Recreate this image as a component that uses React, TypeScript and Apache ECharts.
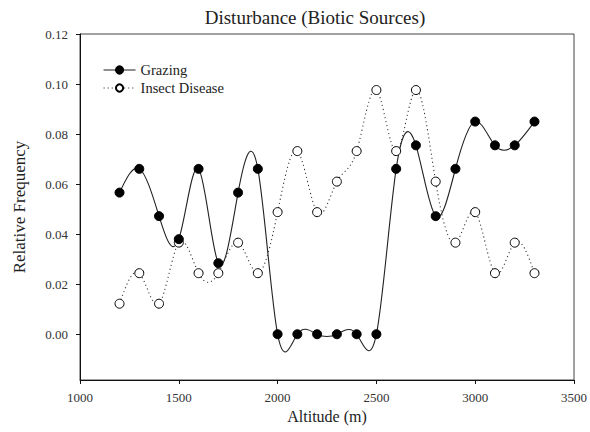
import React, { useEffect, useRef } from "react";
import * as echarts from "echarts";

const altitudes = [1200, 1300, 1400, 1500, 1600, 1700, 1800, 1900, 2000, 2100, 2200, 2300, 2400, 2500, 2600, 2700, 2800, 2900, 3000, 3100, 3200, 3300];
const grazing = [0.0566, 0.0661, 0.0472, 0.038, 0.0661, 0.0284, 0.0566, 0.0661, 0, 0, 0, 0, 0, 0, 0.0661, 0.0755, 0.0472, 0.0661, 0.085, 0.0755, 0.0755, 0.085];
const insectDisease = [0.0122, 0.0244, 0.0122, 0.0366, 0.0244, 0.0244, 0.0366, 0.0244, 0.0488, 0.0732, 0.0488, 0.061, 0.0732, 0.0976, 0.0732, 0.0976, 0.061, 0.0366, 0.0488, 0.0244, 0.0366, 0.0244];
const yTicks = [0, 0.02, 0.04, 0.06, 0.08, 0.1, 0.12];
const seriesNames = ["Grazing", "Insect Disease"];

const FONT = "'Liberation Serif', 'DejaVu Serif', 'Times New Roman', serif";

// Natural cubic spline through pixel points -> SVG path made of bezier segments
function splinePath(pts: number[][]): string {
  const n = pts.length - 1;
  if (n < 1) return "";
  const xs = pts.map((p) => p[0]);
  const ys = pts.map((p) => p[1]);
  const h: number[] = [];
  for (let i = 0; i < n; i++) h.push(xs[i + 1] - xs[i]);
  const M = new Array(n + 1).fill(0);
  if (n > 1) {
    const a: number[] = [], b: number[] = [], c: number[] = [], d: number[] = [];
    for (let i = 1; i < n; i++) {
      a.push(h[i - 1]);
      b.push(2 * (h[i - 1] + h[i]));
      c.push(h[i]);
      d.push(6 * ((ys[i + 1] - ys[i]) / h[i] - (ys[i] - ys[i - 1]) / h[i - 1]));
    }
    const m = b.length;
    for (let i = 1; i < m; i++) {
      const w = a[i] / b[i - 1];
      b[i] -= w * c[i - 1];
      d[i] -= w * d[i - 1];
    }
    const sol = new Array(m).fill(0);
    sol[m - 1] = d[m - 1] / b[m - 1];
    for (let i = m - 2; i >= 0; i--) sol[i] = (d[i] - c[i] * sol[i + 1]) / b[i];
    for (let i = 1; i < n; i++) M[i] = sol[i - 1];
  }
  let path = `M${xs[0]},${ys[0]}`;
  for (let i = 0; i < n; i++) {
    const hi = h[i];
    const s0 = (ys[i + 1] - ys[i]) / hi - (hi * (2 * M[i] + M[i + 1])) / 6;
    const s1 = (ys[i + 1] - ys[i]) / hi + (hi * (M[i] + 2 * M[i + 1])) / 6;
    const c1x = xs[i] + hi / 3, c1y = ys[i] + (s0 * hi) / 3;
    const c2x = xs[i + 1] - hi / 3, c2y = ys[i + 1] - (s1 * hi) / 3;
    path += ` C${c1x},${c1y} ${c2x},${c2y} ${xs[i + 1]},${ys[i + 1]}`;
  }
  return path;
}

export default function App() {
  const ref = useRef<HTMLDivElement>(null);
  useEffect(() => {
    if (!ref.current) return;
    const chart = echarts.init(ref.current, null, { renderer: "svg" });
    const pair = (vals: number[]) => altitudes.map((a, i) => [a, vals[i]]);
    const curve = (vals: number[], stroke: string, dash: number[] | null) => ({
      type: "custom",
      silent: true,
      data: pair(vals),
      encode: { x: 0, y: 1 },
      z: 1,
      renderItem: (params: any, api: any) => {
        if (params.dataIndex !== 0) return null;
        const pts = pair(vals).map((p) => api.coord(p));
        return {
          type: "path",
          shape: { pathData: splinePath(pts) },
          style: { fill: "none", stroke, lineWidth: 1.1, lineDash: dash || undefined },
        };
      },
    });
    chart.setOption({
      animation: false,
      backgroundColor: "#ffffff",
      title: {
        text: "Disturbance (Biotic Sources)",
        left: 310,
        textAlign: "center",
        top: 3,
        textStyle: { fontFamily: FONT, fontSize: 19, fontWeight: "normal", color: "#222" },
      },
      legend: {
        data: [
          { name: seriesNames[0], lineStyle: { color: "#222", width: 1.1, opacity: 1, type: "solid" } },
          { name: seriesNames[1], lineStyle: { color: "#333", width: 1.1, opacity: 1, type: [1.1, 3] } },
        ],
        orient: "vertical",
        left: 103,
        top: 62.5,
        padding: 0,
        itemWidth: 32,
        itemHeight: 9,
        itemGap: 3,
        textStyle: { fontFamily: FONT, fontSize: 14.5, color: "#222" },
      },
      grid: {
        left: 80,
        right: 14,
        top: 34,
        bottom: 52,
        show: true,
        borderColor: "#444",
        borderWidth: 1,
        containLabel: false,
      },
      xAxis: {
        type: "value",
        min: 1000,
        max: 3500,
        interval: 500,
        name: "Altitude (m)",
        nameLocation: "middle",
        nameGap: 27,
        nameTextStyle: { fontFamily: FONT, fontSize: 16, color: "#222" },
        axisLine: { show: true, onZero: false, lineStyle: { color: "#111", width: 1 } },
        axisTick: { show: true, inside: false, length: 4, lineStyle: { color: "#111" } },
        axisLabel: { fontFamily: FONT, fontSize: 13, color: "#333", margin: 11, formatter: (v: number) => String(v) },
        splitLine: { show: false },
      },
      yAxis: {
        type: "value",
        min: -0.0183,
        max: 0.12,
        name: "Relative Frequency",
        nameLocation: "middle",
        nameGap: 52,
        nameTextStyle: { fontFamily: FONT, fontSize: 17, color: "#222" },
        axisLine: { show: true, onZero: false, lineStyle: { color: "#111", width: 1 } },
        axisTick: { show: true, inside: false, length: 4, customValues: yTicks, lineStyle: { color: "#111" } },
        axisLabel: {
          fontFamily: FONT,
          fontSize: 13,
          color: "#333",
          margin: 12,
          customValues: yTicks,
          formatter: (v: number) => v.toFixed(2),
        },
        splitLine: { show: false },
      },
      series: [
        {
          name: seriesNames[0],
          type: "line",
          data: pair(grazing),
          symbol: "circle",
          symbolSize: 9,
          itemStyle: { color: "#000", borderColor: "#000", borderWidth: 1 },
          lineStyle: { color: "#222", width: 0, opacity: 0 },
          z: 3,
        },
        {
          name: seriesNames[1],
          type: "line",
          data: pair(insectDisease),
          symbol: "circle",
          symbolSize: 9,
          itemStyle: { color: "#fff", borderColor: "#000", borderWidth: 1 },
          lineStyle: { color: "#333", width: 0, opacity: 0 },
          z: 2,
        },
        curve(grazing, "#222", null),
        curve(insectDisease, "#333", [1.1, 3]),
      ],
    });
    return () => chart.dispose();
  }, []);
  return <div ref={ref} style={{ position: "fixed", left: 0, top: 0, width: 590, height: 432 }} />;
}
